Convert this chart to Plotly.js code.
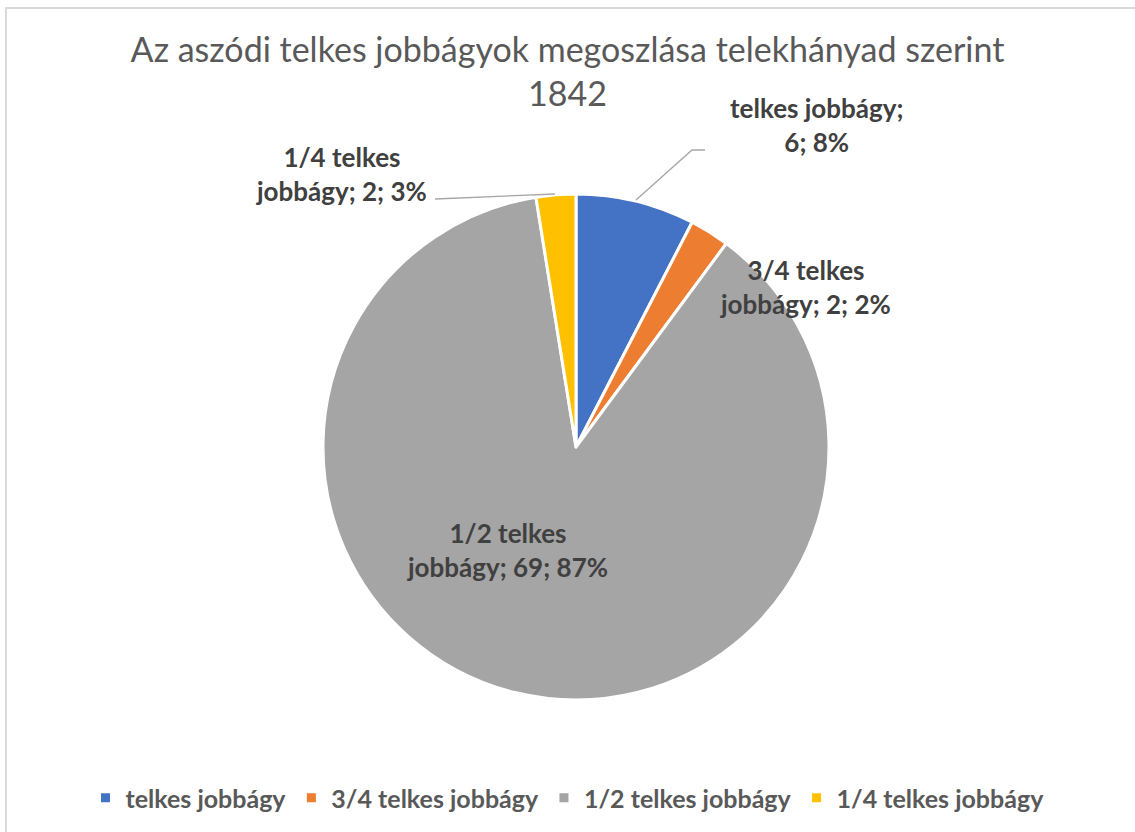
<!DOCTYPE html>
<html>
<head>
<meta charset="utf-8">
<script src="https://cdn.plot.ly/plotly-3.0.1.min.js"></script>
<style>html,body{margin:0;padding:0;background:#fff;}#chart{width:1135px;height:832px;}</style>
</head>
<body>
<div id="chart"></div>
<script>
const categories = ["telkes jobbágy", "3/4 telkes jobbágy", "1/2 telkes jobbágy", "1/4 telkes jobbágy"];
const values = [6, 2, 69, 2];
const pctLabels = ["8%", "2%", "87%", "3%"];
const colors = ["#4472C4", "#ED7D31", "#A5A5A5", "#FFC000"];
// label text split into two lines as in the original
const labelLines = [
  ["telkes jobbágy;", "6; 8%"],
  ["3/4 telkes", "jobbágy; 2; 2%"],
  ["1/2 telkes", "jobbágy; 69; 87%"],
  ["1/4 telkes", "jobbágy; 2; 3%"]
];
const W = 1135, H = 832;
const px = x => x / W;
const py = y => 1 - y / H;

const labelPos = [[817, 125], [805, 287], [507, 550], [341, 174]];
const FONT = "Lato, 'Open Sans', sans-serif";

const annotations = categories.map((c, i) => {
  const parts = labelLines[i];
  return {
    xref: "paper", yref: "paper",
    x: px(labelPos[i][0]), y: py(labelPos[i][1]),
    xanchor: "center", yanchor: "middle",
    text: "<b>" + parts[0] + "</b><br><b>" + parts[1] + "</b>",
    showarrow: false,
    align: "center",
    font: {family: FONT, size: 26, color: "#404040"}
  };
});

const shapes = [
  // chart border
  {type: "path", xref: "paper", yref: "paper",
   path: `M ${px(6)} ${py(840)} L ${px(6)} ${py(8)} L ${px(1140)} ${py(8)}`,
   line: {color: "#D9D9D9", width: 2}},
  // leader line for blue slice
  {type: "path", xref: "paper", yref: "paper",
   path: `M ${px(636)} ${py(200)} L ${px(692)} ${py(150)} L ${px(705)} ${py(150)}`,
   line: {color: "#A6A6A6", width: 1.3}},
  // leader line for yellow slice
  {type: "path", xref: "paper", yref: "paper",
   path: `M ${px(435)} ${py(199)} L ${px(555)} ${py(194)}`,
   line: {color: "#A6A6A6", width: 1.3}}
];

const trace = {
  type: "pie",
  labels: categories,
  values: values,
  sort: false,
  direction: "clockwise",
  rotation: 0,
  textinfo: "none",
  hoverinfo: "label+value+percent",
  marker: {colors: colors, line: {color: "#FFFFFF", width: 3}},
  domain: {x: [px(323), px(829)], y: [py(700), py(194)]}
};

const layout = {
  width: W, height: H,
  margin: {l: 0, r: 0, t: 0, b: 0},
  paper_bgcolor: "#FFFFFF",
  title: {
    text: "Az aszódi telkes jobbágyok megoszlása telekhányad szerint<br>1842",
    font: {family: FONT, size: 34, color: "#595959"},
    x: 0.5, xanchor: "center",
    y: py(62), yanchor: "top", yref: "paper"
  },
  showlegend: true,
  legend: {
    orientation: "h",
    x: 0.5, xanchor: "center",
    y: py(798), yanchor: "middle",
    font: {family: FONT, size: 25, color: "#595959", weight: "bold"},
    itemwidth: 30,
    traceorder: "normal"
  },
  annotations: annotations,
  shapes: shapes
};

Plotly.newPlot("chart", [trace], layout, {displayModeBar: false});
</script>
</body>
</html>
